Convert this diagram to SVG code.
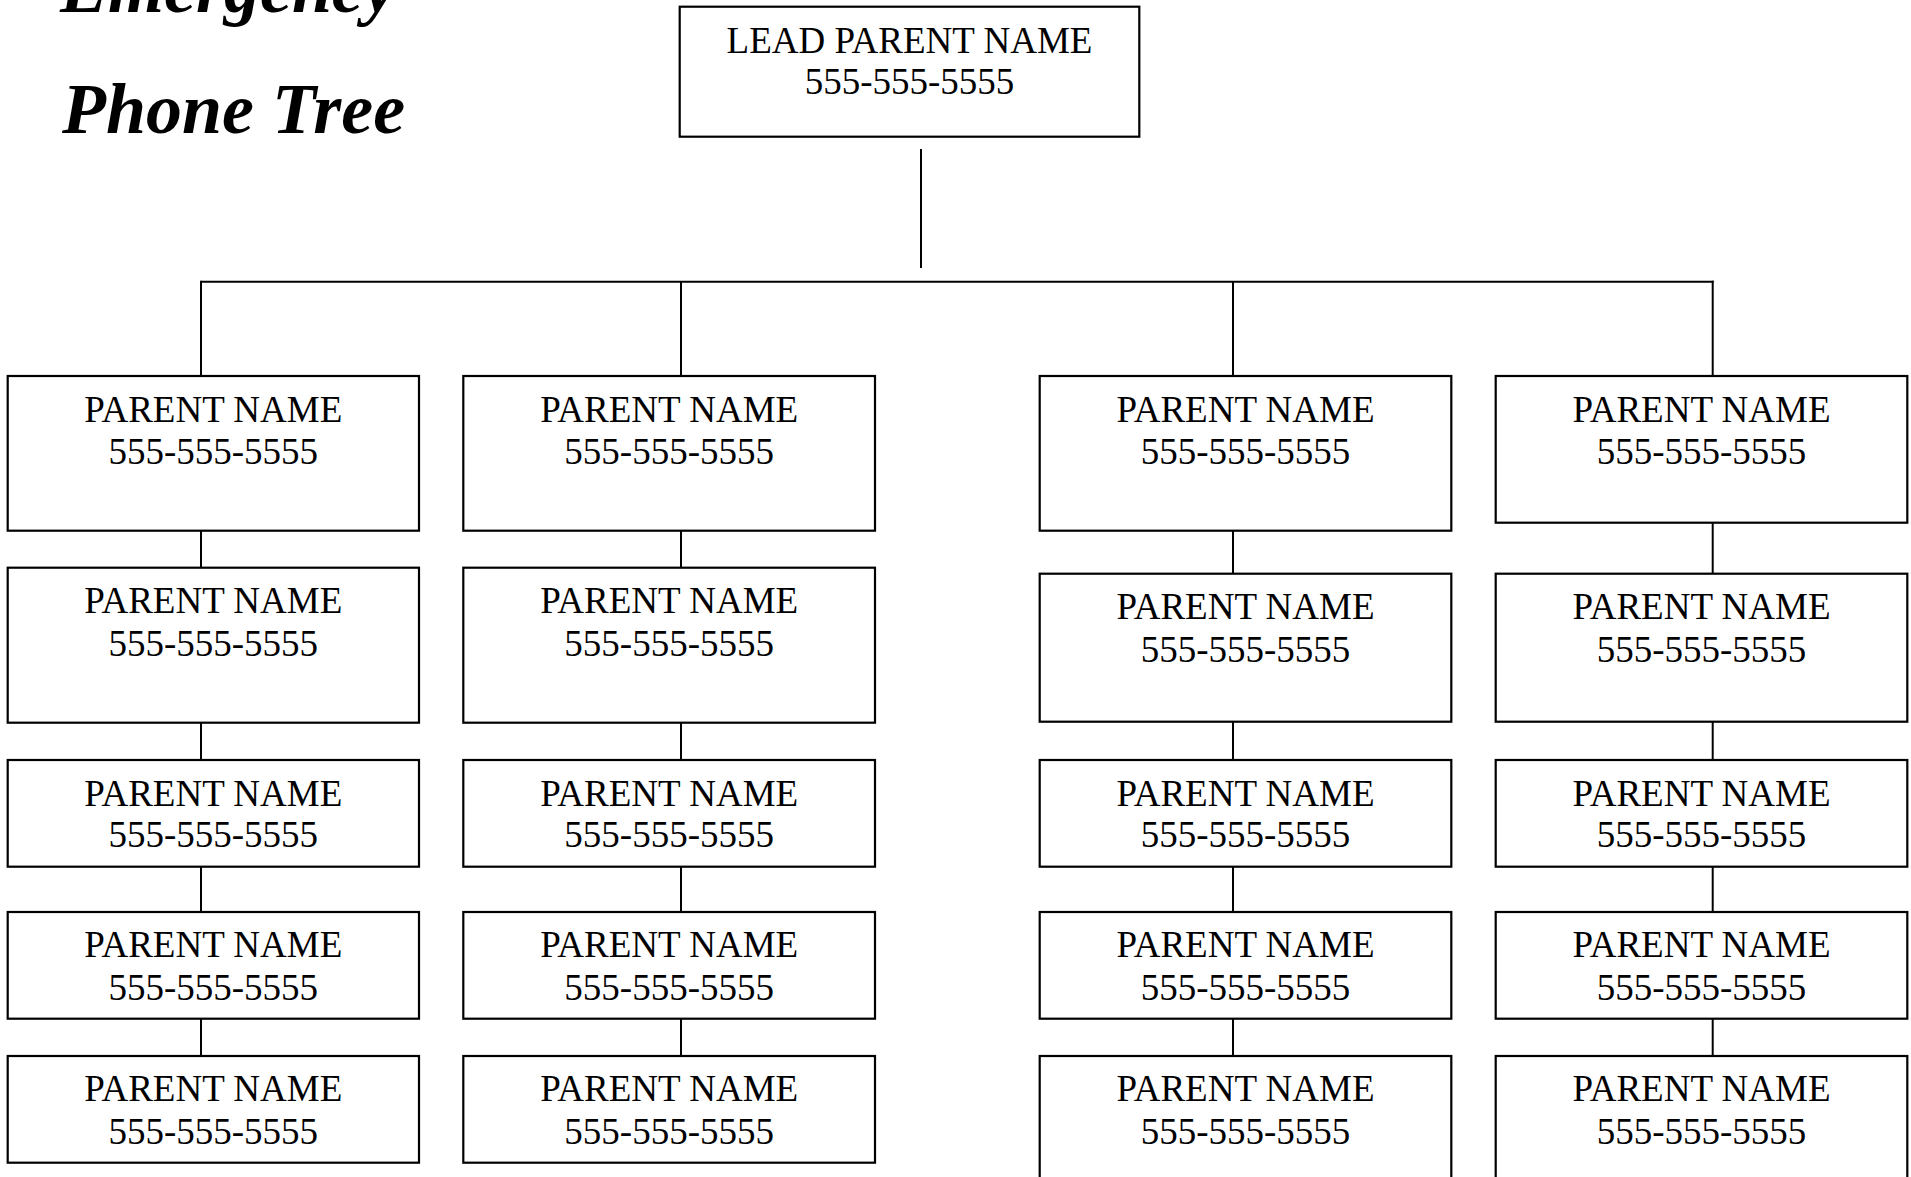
<svg xmlns="http://www.w3.org/2000/svg" width="1911" height="1177" viewBox="0 0 1911 1177">
<style>
.box{fill:#fff;stroke:#000;stroke-width:2.2}
.t{font-family:"Liberation Serif","Times New Roman",serif;font-size:37px;fill:#000;text-anchor:middle}
.title{font-family:"Liberation Serif","Times New Roman",serif;font-style:italic;font-weight:bold;font-size:72px;fill:#000}
.c{stroke:#000;stroke-width:2;fill:none}
</style>
<rect width="1911" height="1177" fill="#fff"/>
<g id="title">
<text class="title" x="60" y="12">Emergency</text>
<text class="title" x="62" y="133">Phone Tree</text>
</g>
<g id="connectors">
<line class="c" x1="921" y1="149" x2="921" y2="268"/>
<line class="c" x1="201" y1="281.7" x2="1713.7" y2="281.7"/>
<line class="c" x1="201" y1="280.7" x2="201" y2="376"/>
<line class="c" x1="681" y1="281.7" x2="681" y2="376"/>
<line class="c" x1="1233" y1="281.7" x2="1233" y2="376"/>
<line class="c" x1="1712.7" y1="280.7" x2="1712.7" y2="376"/>
<line class="c" x1="201" y1="530.7" x2="201" y2="567.7"/>
<line class="c" x1="201" y1="722.7" x2="201" y2="760"/>
<line class="c" x1="201" y1="866.7" x2="201" y2="912"/>
<line class="c" x1="201" y1="1018.7" x2="201" y2="1056"/>
<line class="c" x1="681" y1="530.7" x2="681" y2="567.7"/>
<line class="c" x1="681" y1="722.7" x2="681" y2="760"/>
<line class="c" x1="681" y1="866.7" x2="681" y2="912"/>
<line class="c" x1="681" y1="1018.7" x2="681" y2="1056"/>
<line class="c" x1="1233" y1="530.7" x2="1233" y2="573.7"/>
<line class="c" x1="1233" y1="721.7" x2="1233" y2="760"/>
<line class="c" x1="1233" y1="866.7" x2="1233" y2="912"/>
<line class="c" x1="1233" y1="1018.7" x2="1233" y2="1056"/>
<line class="c" x1="1712.7" y1="522.7" x2="1712.7" y2="573.7"/>
<line class="c" x1="1712.7" y1="721.7" x2="1712.7" y2="760"/>
<line class="c" x1="1712.7" y1="866.7" x2="1712.7" y2="912"/>
<line class="c" x1="1712.7" y1="1018.7" x2="1712.7" y2="1056"/>
</g>
<g id="lead"><rect class="box" x="679.7" y="6.7" width="459.6" height="130"/><text class="t" x="909.5" y="52.7">LEAD PARENT NAME</text><text class="t" x="909.5" y="94.3">555-555-5555</text></g>
<g id="c1r1"><rect class="box" x="7.7" y="376" width="411.3" height="154.7"/><text class="t" x="213.3" y="422.3">PARENT NAME</text><text class="t" x="213.3" y="464.3">555-555-5555</text></g>
<g id="c1r2"><rect class="box" x="7.7" y="567.7" width="411.3" height="155"/><text class="t" x="213.3" y="613.3">PARENT NAME</text><text class="t" x="213.3" y="656">555-555-5555</text></g>
<g id="c1r3"><rect class="box" x="7.7" y="760" width="411.3" height="106.7"/><text class="t" x="213.3" y="806">PARENT NAME</text><text class="t" x="213.3" y="846.7">555-555-5555</text></g>
<g id="c1r4"><rect class="box" x="7.7" y="912" width="411.3" height="106.7"/><text class="t" x="213.3" y="957.3">PARENT NAME</text><text class="t" x="213.3" y="1000">555-555-5555</text></g>
<g id="c1r5"><rect class="box" x="7.7" y="1056" width="411.3" height="106.7"/><text class="t" x="213.3" y="1100.7">PARENT NAME</text><text class="t" x="213.3" y="1144">555-555-5555</text></g>
<g id="c2r1"><rect class="box" x="463.3" y="376" width="411.7" height="154.7"/><text class="t" x="669.2" y="422.3">PARENT NAME</text><text class="t" x="669.2" y="464.3">555-555-5555</text></g>
<g id="c2r2"><rect class="box" x="463.3" y="567.7" width="411.7" height="155"/><text class="t" x="669.2" y="613.3">PARENT NAME</text><text class="t" x="669.2" y="656">555-555-5555</text></g>
<g id="c2r3"><rect class="box" x="463.3" y="760" width="411.7" height="106.7"/><text class="t" x="669.2" y="806">PARENT NAME</text><text class="t" x="669.2" y="846.7">555-555-5555</text></g>
<g id="c2r4"><rect class="box" x="463.3" y="912" width="411.7" height="106.7"/><text class="t" x="669.2" y="957.3">PARENT NAME</text><text class="t" x="669.2" y="1000">555-555-5555</text></g>
<g id="c2r5"><rect class="box" x="463.3" y="1056" width="411.7" height="106.7"/><text class="t" x="669.2" y="1100.7">PARENT NAME</text><text class="t" x="669.2" y="1144">555-555-5555</text></g>
<g id="c3r1"><rect class="box" x="1039.7" y="376" width="411.6" height="154.7"/><text class="t" x="1245.5" y="422.3">PARENT NAME</text><text class="t" x="1245.5" y="464.3">555-555-5555</text></g>
<g id="c3r2"><rect class="box" x="1039.7" y="573.7" width="411.6" height="148"/><text class="t" x="1245.5" y="619.3">PARENT NAME</text><text class="t" x="1245.5" y="661.7">555-555-5555</text></g>
<g id="c3r3"><rect class="box" x="1039.7" y="760" width="411.6" height="106.7"/><text class="t" x="1245.5" y="806">PARENT NAME</text><text class="t" x="1245.5" y="846.7">555-555-5555</text></g>
<g id="c3r4"><rect class="box" x="1039.7" y="912" width="411.6" height="106.7"/><text class="t" x="1245.5" y="957.3">PARENT NAME</text><text class="t" x="1245.5" y="1000">555-555-5555</text></g>
<g id="c3r5"><rect class="box" x="1039.7" y="1056" width="411.6" height="160"/><text class="t" x="1245.5" y="1100.7">PARENT NAME</text><text class="t" x="1245.5" y="1144">555-555-5555</text></g>
<g id="c4r1"><rect class="box" x="1495.7" y="376" width="411.6" height="146.7"/><text class="t" x="1701.5" y="422.3">PARENT NAME</text><text class="t" x="1701.5" y="464.3">555-555-5555</text></g>
<g id="c4r2"><rect class="box" x="1495.7" y="573.7" width="411.6" height="148"/><text class="t" x="1701.5" y="619.3">PARENT NAME</text><text class="t" x="1701.5" y="661.7">555-555-5555</text></g>
<g id="c4r3"><rect class="box" x="1495.7" y="760" width="411.6" height="106.7"/><text class="t" x="1701.5" y="806">PARENT NAME</text><text class="t" x="1701.5" y="846.7">555-555-5555</text></g>
<g id="c4r4"><rect class="box" x="1495.7" y="912" width="411.6" height="106.7"/><text class="t" x="1701.5" y="957.3">PARENT NAME</text><text class="t" x="1701.5" y="1000">555-555-5555</text></g>
<g id="c4r5"><rect class="box" x="1495.7" y="1056" width="411.6" height="160"/><text class="t" x="1701.5" y="1100.7">PARENT NAME</text><text class="t" x="1701.5" y="1144">555-555-5555</text></g>
</svg>
